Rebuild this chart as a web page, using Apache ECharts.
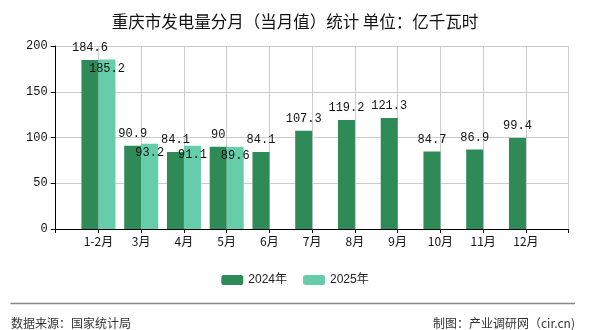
<!DOCTYPE html>
<html><head><meta charset="utf-8">
<script src="https://cdn.jsdelivr.net/npm/echarts@6/dist/echarts.min.js"></script>
<style>html,body{margin:0;padding:0;background:#fff}#c{width:590px;height:330px}</style>
</head><body><div id="c"></div>
<script>
var categories = ['1-2月','3月','4月','5月','6月','7月','8月','9月','10月','11月','12月'];
var values2024 = [184.6, 90.9, 84.1, 90, 84.1, 107.3, 119.2, 121.3, 84.7, 86.9, 99.4];
var values2025 = [185.2, 93.2, 91.1, 89.6];
var yTicks = [0, 50, 100, 150, 200];

var chart = echarts.init(document.getElementById('c'));
var xData = [''].concat(categories).concat(['']);
var s2024 = [null].concat(values2024);
var s2025 = [null].concat(values2025);
var monoFont = '"Liberation Mono", "Noto Sans CJK SC", monospace';
var cjk = '"Noto Sans CJK SC", sans-serif';
chart.setOption({
  animation: false,
  title: {
    text: '重庆市发电量分月（当月值）统计 单位：亿千瓦时',
    left: 'center', top: 8,
    textStyle: {fontSize: 16.5, fontWeight: 'normal', color: '#111', fontFamily: cjk}
  },
  legend: {
    bottom: 39, left: 'center', itemWidth: 22, itemHeight: 10, itemGap: 16,
    textStyle: {fontSize: 12, color: '#222', fontFamily: '"Liberation Sans", "Noto Sans CJK SC", sans-serif'},
    data: ['2024年', '2025年']
  },
  grid: {left: 55.7, right: 21.3, top: 46, bottom: 101},
  xAxis: {
    type: 'category', data: xData, boundaryGap: false,
    axisLine: {lineStyle: {color: '#000'}},
    axisTick: {show: true, length: 4, lineStyle: {color: '#000'}},
    axisLabel: {color: '#111', fontSize: 12, fontFamily: cjk, margin: 6},
    splitLine: {show: true, lineStyle: {color: '#ccc'}}
  },
  yAxis: {
    type: 'value', min: yTicks[0], max: yTicks[yTicks.length-1], interval: 50,
    axisLine: {show: true, lineStyle: {color: '#000'}},
    axisTick: {show: true, length: 5, lineStyle: {color: '#000'}},
    axisLabel: {color: '#111', fontSize: 12, fontFamily: monoFont, margin: 8},
    splitLine: {show: true, lineStyle: {color: '#ccc'}}
  },
  series: [
    {name: '2024年', type: 'bar', data: s2024, barWidth: 17, barGap: '0%',
     itemStyle: {color: '#2E8B57'},
     label: {show: true, position: 'top', distance: 6, color: '#111', fontSize: 12, fontFamily: monoFont}},
    {name: '2025年', type: 'bar', data: s2025, barWidth: 17, barGap: '0%',
     itemStyle: {color: '#66CDAA'},
     label: {show: true, position: 'insideTop', distance: 3, color: '#111', fontSize: 12, fontFamily: monoFont}}
  ],
  graphic: [
    {type: 'line', shape: {x1: 10.5, y1: 303.5, x2: 575, y2: 303.5}, style: {stroke: '#888', lineWidth: 1.5}},
    {type: 'text', left: 11, top: 317, style: {text: '数据来源：国家统计局', fontSize: 12, fill: '#333', fontFamily: cjk}},
    {type: 'text', right: 15, top: 317, style: {text: '制图：产业调研网（cir.cn)', fontSize: 12, fill: '#333', fontFamily: cjk}}
  ]
});
</script></body></html>
